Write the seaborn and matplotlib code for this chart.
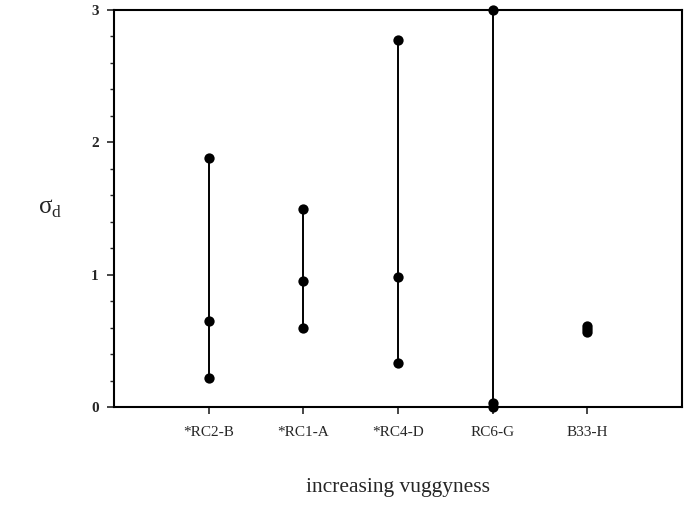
import matplotlib
matplotlib.use("Agg")
import matplotlib.pyplot as plt
from matplotlib.ticker import MultipleLocator
import numpy as np
import pandas as pd
import seaborn as sns

# Samples ordered by increasing vugginess
samples = ["*RC2-B", "*RC1-A", "*RC4-D", "RC6-G", "B33-H"]
sigma_low = [0.22, 0.60, 0.33, 0.00, 0.57]
sigma_mid = [0.65, 0.95, 0.98, 0.03, 0.59]
sigma_high = [1.88, 1.50, 2.77, 3.00, 0.61]
y_ticks = [0, 1, 2, 3]

positions = np.arange(1, len(samples) + 1)

rows = []
for pos, name, lo, mid, hi in zip(positions, samples, sigma_low, sigma_mid, sigma_high):
    for val in (lo, mid, hi):
        rows.append({"pos": pos, "sample": name, "sigma": val})
df = pd.DataFrame(rows)

sns.set_style("ticks")
plt.rcParams["font.family"] = ["Liberation Serif", "DejaVu Serif"]
plt.rcParams["mathtext.fontset"] = "custom"
plt.rcParams["mathtext.rm"] = "Liberation Serif"

fig = plt.figure(figsize=(6.89, 5.07), dpi=100)
ax = fig.add_axes([114 / 689, 1 - 407 / 507, (682 - 114) / 689, (407 - 10) / 507])

# vertical range line for each sample
sns.lineplot(data=df, x="pos", y="sigma", units="sample", estimator=None,
             sort=False, color="black", linewidth=1.4, ax=ax, legend=False)
# individual measurements
sns.scatterplot(data=df, x="pos", y="sigma", color="black", s=55,
                edgecolor="black", linewidth=0, ax=ax, legend=False,
                zorder=5, clip_on=False)

ax.set_xlim(0, 6)
ax.set_ylim(0, 3)
ax.set_xticks(positions)
ax.set_xticklabels(samples, fontsize=11)
ax.set_yticks(y_ticks)
ax.yaxis.set_minor_locator(MultipleLocator(0.2))
for lab in ax.get_yticklabels():
    lab.set_fontsize(11)
    lab.set_fontweight("bold")

ax.tick_params(axis="x", which="major", direction="out", length=5, width=1.2, pad=9)
ax.tick_params(axis="y", which="major", direction="out", length=5, width=1.2, pad=6)
ax.tick_params(axis="y", which="minor", direction="out", length=3, width=1.0)

for sp in ax.spines.values():
    sp.set_linewidth(1.5)
    sp.set_color("black")

ax.set_xlabel("increasing vuggyness", fontsize=15.5, labelpad=28)
ax.set_ylabel("σ$_\\mathrm{d}$", fontsize=18, rotation=0, va="center", ha="center")
ax.yaxis.set_label_coords(-64 / 568, 0.5)

fig.savefig("out.png", dpi=100, facecolor="white")
